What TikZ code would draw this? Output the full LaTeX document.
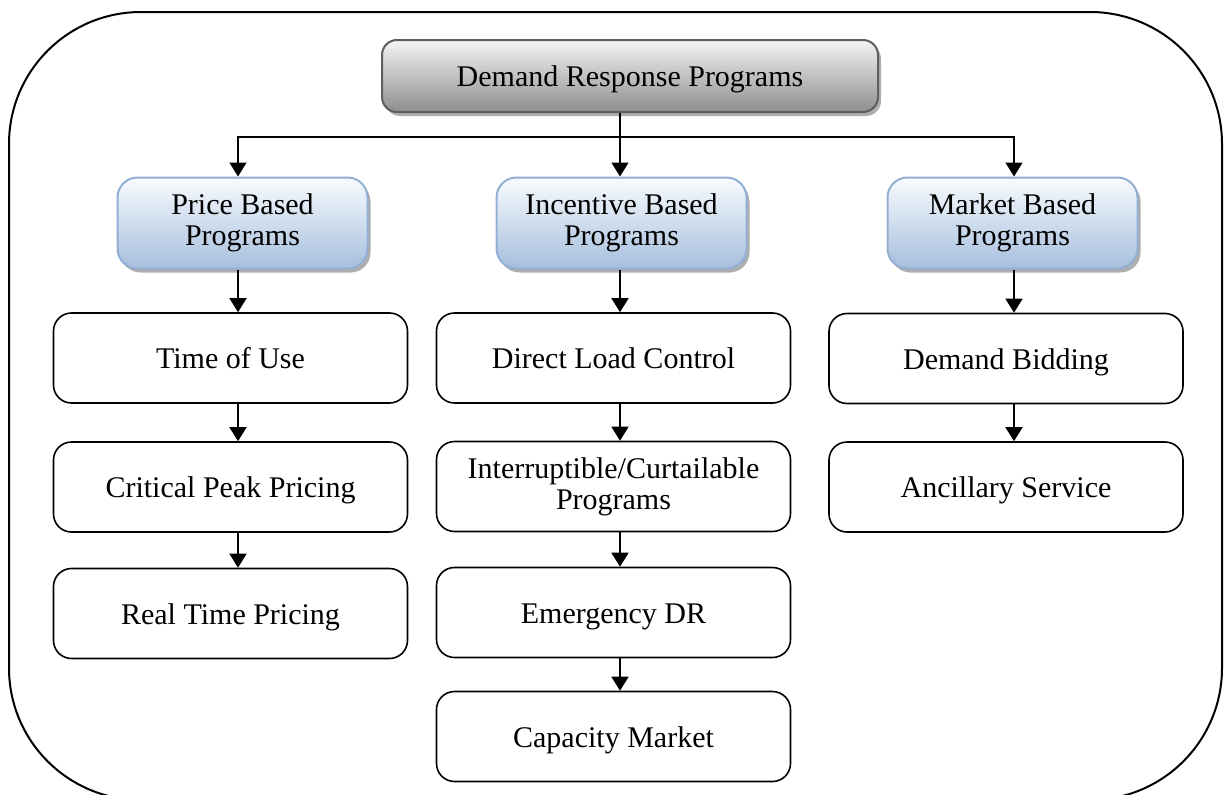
\documentclass[tikz,border=0pt]{standalone}
\usepackage{fontspec}
\setmainfont{Liberation Serif}
\usetikzlibrary{arrows.meta,shadows}
\definecolor{topborder}{HTML}{5E5E5E}
\definecolor{toplight}{HTML}{F4F4F4}
\definecolor{topdark}{HTML}{8E8E8E}
\definecolor{blueborder}{HTML}{93AFD3}
\definecolor{bluelight}{HTML}{F8FBFE}
\definecolor{bluedark}{HTML}{A6BFDD}
\definecolor{shadowgray}{HTML}{9A9A9A}
\tikzset{
  txt/.style={font=\fontsize{30}{31}\selectfont, align=center, inner sep=0pt},
  oneline/.style={text height=27pt, text depth=6pt},
  topbox/.style={txt, oneline, draw=topborder, line width=2pt, rounded corners=15pt,
    top color=toplight, bottom color=topdark,
    minimum width=496pt, minimum height=72pt,
    drop shadow={shadow xshift=3pt, shadow yshift=-4pt, fill=shadowgray, opacity=0.8}},
  catbox/.style={txt, draw=blueborder, line width=2pt, rounded corners=20pt,
    top color=bluelight, bottom color=bluedark,
    minimum width=250pt, minimum height=91pt,
    drop shadow={shadow xshift=3pt, shadow yshift=-4pt, fill=shadowgray, opacity=0.8}},
  progbox/.style={txt, draw=black, line width=1.6pt, rounded corners=18pt,
    fill=white, minimum width=354pt, minimum height=90pt},
  arr/.style={line width=1.6pt, -{Triangle[width=17pt,length=14pt]}},
  conn/.style={line width=1.6pt},
  frame/.style={line width=2pt, rounded corners=132pt}
}
\begin{document}
\begin{tikzpicture}[x=1pt,y=-1pt]
\useasboundingbox (0,0) rectangle (1224,795);
\draw[frame] (9,12) rectangle (1222,800);

% top
\node[topbox] (top) at (630,76) {Demand Response Programs};

% categories
\node[catbox] (price) at (242.5,223) {Price Based\\Programs};
\node[catbox] (incent) at (621.5,223) {Incentive Based\\Programs};
\node[catbox] (market) at (1012.5,223) {Market Based\\Programs};

% column 1
\node[progbox, oneline] (tou) at (230.5,358) {Time of Use};
\node[progbox, oneline] (cpp) at (230.5,487) {Critical Peak Pricing};
\node[progbox, oneline] (rtp) at (230.5,613.5) {Real Time Pricing};

% column 2
\node[progbox, oneline] (dlc) at (613.5,358) {Direct Load Control};
\node[progbox] (icp) at (613.5,486.5) {Interruptible/Curtailable\\Programs};
\node[progbox, oneline] (edr) at (613.5,612.5) {Emergency DR};
\node[progbox, oneline] (cap) at (613.5,736.5) {Capacity Market};

% column 3
\node[progbox, oneline] (bid) at (1006,358.5) {Demand Bidding};
\node[progbox, oneline] (anc) at (1006,487) {Ancillary Service};

% column guides
\coordinate (c1) at (238,0);
\coordinate (c2) at (620,0);
\coordinate (c3) at (1014,0);
\coordinate (j) at (620,137);

\draw[conn] (top.south -| c2) -- (j);
\draw[arr] (j) -| (price.north -| c1);
\draw[arr] (j) -| (market.north -| c3);
\draw[arr] (j) -- (incent.north -| c2);

\draw[arr] (price.south -| c1) -- (tou.north -| c1);
\draw[arr] (tou.south -| c1) -- (cpp.north -| c1);
\draw[arr] (cpp.south -| c1) -- (rtp.north -| c1);

\draw[arr] (incent.south -| c2) -- (dlc.north -| c2);
\draw[arr] (dlc.south -| c2) -- (icp.north -| c2);
\draw[arr] (icp.south -| c2) -- (edr.north -| c2);
\draw[arr] (edr.south -| c2) -- (cap.north -| c2);

\draw[arr] (market.south -| c3) -- (bid.north -| c3);
\draw[arr] (bid.south -| c3) -- (anc.north -| c3);
\end{tikzpicture}
\end{document}
